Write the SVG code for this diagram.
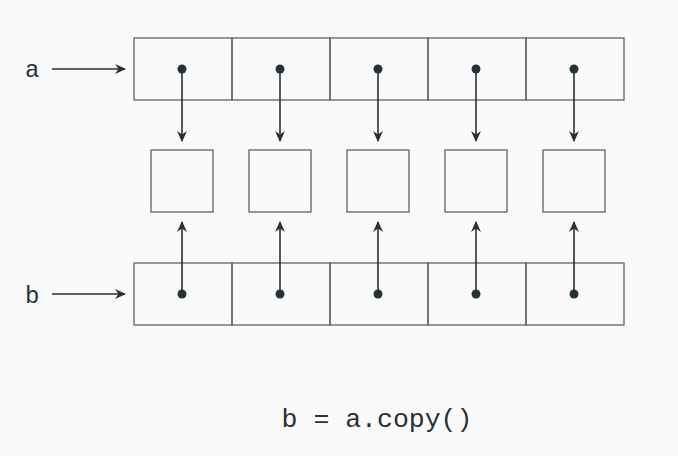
<svg xmlns="http://www.w3.org/2000/svg" width="678" height="456" viewBox="0 0 678 456">
<style>
.cell{fill:none;stroke:#59666a;stroke-width:1.3}
.ptr{stroke:#263238;stroke-width:1.6;fill:none}
.dot{fill:#263238}
.lbl{font-family:"Liberation Mono",monospace;fill:#263238}
</style>
<defs>
<marker id="ah" viewBox="0 0 10 10" refX="9" refY="5" markerWidth="11" markerHeight="11" markerUnits="userSpaceOnUse" orient="auto">
<path d="M0,0.5 L10,5 L0,9.5 L3,5 Z" fill="#263238"/>
</marker>
</defs>
<rect width="678" height="456" fill="#fafafa"/>
<g id="a-label"><text class="lbl" x="25" y="77" font-size="24">a</text></g>
<g id="b-label"><text class="lbl" x="25" y="303" font-size="24">b</text></g>
<g id="array-a">
<rect class="cell" x="134" y="38" width="98" height="62"/>
<rect class="cell" x="232" y="38" width="98" height="62"/>
<rect class="cell" x="330" y="38" width="98" height="62"/>
<rect class="cell" x="428" y="38" width="98" height="62"/>
<rect class="cell" x="526" y="38" width="98" height="62"/>
</g>
<g id="objects">
<rect id="obj1" class="cell" x="151" y="150" width="62" height="62"/>
<rect id="obj2" class="cell" x="249" y="150" width="62" height="62"/>
<rect id="obj3" class="cell" x="347" y="150" width="62" height="62"/>
<rect id="obj4" class="cell" x="445" y="150" width="62" height="62"/>
<rect id="obj5" class="cell" x="543" y="150" width="62" height="62"/>
</g>
<g id="array-b">
<rect class="cell" x="134" y="263" width="98" height="62"/>
<rect class="cell" x="232" y="263" width="98" height="62"/>
<rect class="cell" x="330" y="263" width="98" height="62"/>
<rect class="cell" x="428" y="263" width="98" height="62"/>
<rect class="cell" x="526" y="263" width="98" height="62"/>
</g>
<g id="connectors">
<line class="ptr" x1="52" y1="69" x2="125" y2="69" marker-end="url(#ah)"/>
<line class="ptr" x1="52" y1="294" x2="125" y2="294" marker-end="url(#ah)"/>
<line class="ptr" x1="182" y1="69" x2="182" y2="141" marker-end="url(#ah)"/>
<line class="ptr" x1="280" y1="69" x2="280" y2="141" marker-end="url(#ah)"/>
<line class="ptr" x1="378" y1="69" x2="378" y2="141" marker-end="url(#ah)"/>
<line class="ptr" x1="476" y1="69" x2="476" y2="141" marker-end="url(#ah)"/>
<line class="ptr" x1="574" y1="69" x2="574" y2="141" marker-end="url(#ah)"/>
<line class="ptr" x1="182" y1="294" x2="182" y2="222" marker-end="url(#ah)"/>
<line class="ptr" x1="280" y1="294" x2="280" y2="222" marker-end="url(#ah)"/>
<line class="ptr" x1="378" y1="294" x2="378" y2="222" marker-end="url(#ah)"/>
<line class="ptr" x1="476" y1="294" x2="476" y2="222" marker-end="url(#ah)"/>
<line class="ptr" x1="574" y1="294" x2="574" y2="222" marker-end="url(#ah)"/>
<circle class="dot" cx="182" cy="69" r="4.5"/>
<circle class="dot" cx="280" cy="69" r="4.5"/>
<circle class="dot" cx="378" cy="69" r="4.5"/>
<circle class="dot" cx="476" cy="69" r="4.5"/>
<circle class="dot" cx="574" cy="69" r="4.5"/>
<circle class="dot" cx="182" cy="294" r="4.5"/>
<circle class="dot" cx="280" cy="294" r="4.5"/>
<circle class="dot" cx="378" cy="294" r="4.5"/>
<circle class="dot" cx="476" cy="294" r="4.5"/>
<circle class="dot" cx="574" cy="294" r="4.5"/>
</g>
<g id="caption"><text class="lbl" x="377" y="427" font-size="26.5" text-anchor="middle">b = a.copy()</text></g>
</svg>
